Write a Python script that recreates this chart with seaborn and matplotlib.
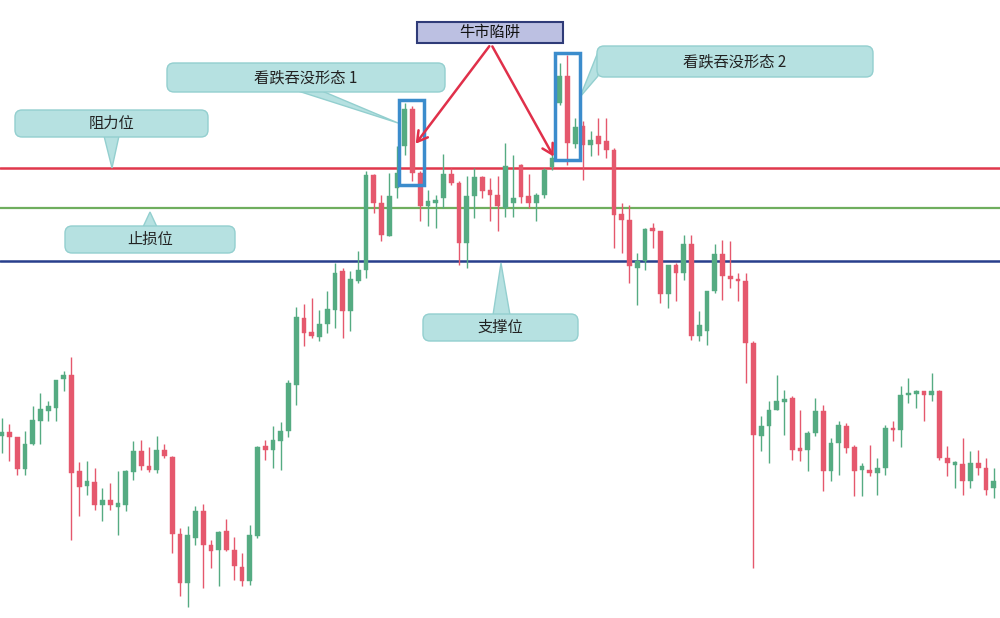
import numpy as np
import pandas as pd
import matplotlib
matplotlib.use("Agg")
import matplotlib.pyplot as plt
from matplotlib.patches import FancyBboxPatch, Polygon, Rectangle
import seaborn as sns

# ---------------- data (price units) ----------------
opens = [182, 186, 181, 149, 174, 197, 207, 210, 239, 243,
         147, 132, 136, 113, 118, 111, 113, 146, 167, 152,
         148, 168, 161, 84, 35, 80, 107, 73, 68, 87,
         68, 51, 37, 82, 172, 168, 177, 187, 233, 300,
         286, 281, 294, 308, 347, 307, 337, 348, 443, 415,
         382, 430, 472, 509, 445, 412, 415, 420, 444, 435,
         375, 422, 441, 428, 423, 410, 415, 453, 422, 415,
         423, 451, 515, 542, 474, 492, 473, 482, 477, 468,
         404, 398, 350, 357, 390, 387, 324, 353, 345, 374,
         282, 287, 327, 364, 342, 339, 337, 275, 182, 192,
         208, 216, 220, 170, 168, 185, 207, 147, 175, 192,
         171, 148, 148, 145, 150, 190, 188, 223, 224, 227,
         223, 227, 160, 153, 154, 137, 155, 150, 130]
highs = [200, 194, 181, 187, 212, 225, 217, 238, 247, 261,
         156, 157, 150, 130, 135, 147, 148, 177, 178, 171,
         182, 174, 162, 90, 92, 112, 114, 78, 87, 99,
         81, 65, 93, 172, 178, 192, 196, 238, 311, 314,
         320, 308, 327, 355, 350, 347, 367, 447, 444, 423,
         445, 472, 515, 512, 447, 428, 423, 464, 450, 437,
         442, 450, 442, 440, 442, 475, 463, 454, 444, 425,
         450, 465, 555, 563, 500, 497, 487, 500, 500, 470,
         415, 413, 365, 390, 395, 387, 353, 355, 383, 383,
         307, 327, 374, 378, 377, 345, 345, 277, 202, 217,
         243, 228, 222, 208, 187, 220, 213, 180, 197, 195,
         173, 155, 173, 160, 193, 197, 232, 240, 228, 227,
         245, 228, 172, 157, 180, 167, 168, 160, 150]
lows = [165, 157, 143, 143, 173, 174, 197, 197, 227, 78,
        102, 123, 108, 97, 108, 83, 107, 138, 148, 146,
        145, 160, 65, 22, 11, 73, 30, 50, 32, 67,
        38, 32, 33, 80, 158, 150, 148, 181, 213, 272,
        280, 277, 285, 290, 280, 287, 335, 340, 405, 377,
        382, 420, 463, 437, 397, 392, 390, 410, 433, 353,
        350, 400, 420, 397, 387, 401, 401, 415, 410, 397,
        420, 448, 513, 453, 470, 438, 462, 463, 460, 370,
        365, 335, 313, 348, 370, 315, 310, 317, 338, 278,
        277, 273, 325, 318, 330, 317, 235, 50, 167, 155,
        208, 183, 158, 157, 147, 182, 127, 137, 143, 165,
        122, 122, 142, 123, 143, 177, 171, 215, 210, 197,
        217, 158, 142, 130, 123, 130, 143, 123, 120]
closes = [186, 181, 149, 174, 198, 209, 212, 238, 243, 145,
          131, 137, 113, 118, 113, 115, 147, 167, 152, 148,
          168, 162, 84, 35, 83, 107, 73, 67, 86, 68,
          52, 37, 83, 171, 168, 178, 187, 235, 301, 285,
          282, 294, 309, 345, 307, 339, 348, 443, 415, 383,
          422, 445, 509, 445, 412, 417, 418, 444, 435, 375,
          422, 441, 427, 423, 412, 452, 420, 421, 415, 423,
          448, 460, 542, 475, 491, 473, 478, 474, 468, 403,
          398, 352, 357, 389, 387, 324, 353, 345, 374, 282,
          293, 327, 364, 342, 339, 337, 275, 183, 192, 208,
          217, 219, 168, 167, 185, 207, 147, 175, 193, 170,
          147, 152, 145, 150, 190, 188, 223, 225, 227, 223,
          227, 160, 155, 156, 137, 155, 150, 128, 137]

resistance_level = 450
stop_loss_level = 410
support_level = 357

labels = {
    "trap": "牛市陷阱",
    "engulf1": "看跌吞没形态 1",
    "engulf2": "看跌吞没形态 2",
    "resistance": "阻力位",
    "stop": "止损位",
    "support": "支撑位",
}

df = pd.DataFrame({"open": opens, "high": highs, "low": lows, "close": closes})
df["idx"] = np.arange(len(df))
df["up"] = df["close"] >= df["open"]

# ---------------- style ----------------
sns.set_theme(style="white")
plt.rcParams["font.family"] = ["Noto Sans CJK SC", "DejaVu Sans"]

GREEN = "#55ab82"
RED = "#e5586d"

fig = plt.figure(figsize=(10, 6.18), dpi=100)
fig.patch.set_facecolor("white")
ax = fig.add_axes([0, 0, 1, 1])
ax.set_facecolor("white")

n = len(df)
step = 7.75
x0 = -1.7 / step
ax.set_xlim(x0, x0 + 1000 / step)
ax.set_ylim(0, 618)
ax.axis("off")

# horizontal levels
ax.axhline(resistance_level, color="#e0384c", lw=1.8, zorder=1)
ax.axhline(stop_loss_level, color="#6fae5e", lw=1.6, zorder=1)
ax.axhline(support_level, color="#283f8c", lw=1.8, zorder=1)

colors = np.where(df["up"], GREEN, RED)
ax.vlines(df["idx"], df["low"], df["high"], colors=colors, lw=1.0, zorder=2)
body_lo = np.minimum(df["open"], df["close"])
body_h = np.maximum(np.abs(df["close"] - df["open"]), 2.5)
ax.bar(df["idx"], body_h, bottom=body_lo, width=0.62, color=colors,
       edgecolor=colors, linewidth=0.3, zorder=3)

# ---------------- annotation overlay in pixel coords ----------------
ov = fig.add_axes([0, 0, 1, 1], facecolor="none")
ov.set_xlim(0, 1000)
ov.set_ylim(618, 0)
ov.axis("off")

BOX_FC = "#b6e1e1"
BOX_EC = "#93cfcf"


def callout(x0_, y0_, x1_, y1_, text, wedge):
    poly = Polygon(wedge, closed=True, facecolor=BOX_FC, edgecolor=BOX_EC,
                   lw=1.0, zorder=5)
    ov.add_patch(poly)
    box = FancyBboxPatch((x0_, y0_), x1_ - x0_, y1_ - y0_,
                         boxstyle="round,pad=0,rounding_size=7",
                         facecolor=BOX_FC, edgecolor=BOX_EC, lw=1.0, zorder=6)
    ov.add_patch(box)
    ov.text((x0_ + x1_) / 2, (y0_ + y1_) / 2, text, ha="center", va="center",
            fontsize=11, color="#222222", zorder=7)


callout(15, 110, 208, 137, labels["resistance"],
        [(104, 136), (119, 136), (112, 168)])
callout(65, 226, 235, 253, labels["stop"],
        [(143, 227), (157, 227), (150, 212)])
callout(167, 63, 445, 92, labels["engulf1"],
        [(298, 91), (322, 91), (398, 123)])
callout(597, 46, 873, 77, labels["engulf2"],
        [(598, 52), (598, 76), (580, 97)])
callout(423, 314, 578, 341, labels["support"],
        [(493, 315), (510, 315), (501, 263)])

# blue highlight rectangles
ov.add_patch(Rectangle((399, 100), 25, 85, fill=False, edgecolor="#3b8ccc",
                       lw=2.5, zorder=8))
ov.add_patch(Rectangle((555, 53), 25, 107, fill=False, edgecolor="#3b8ccc",
                       lw=2.5, zorder=8))

# bull-trap box and arrows
ov.add_patch(Rectangle((417, 22), 146, 21, facecolor="#bcc0e2",
                       edgecolor="#2f3b78", lw=1.5, zorder=8))
ov.text(490, 32.5, labels["trap"], ha="center", va="center", fontsize=11,
        color="#111111", zorder=9)
for tip in [(414, 146), (555, 159)]:
    ov.annotate("", xy=tip, xytext=(491, 44),
                arrowprops=dict(arrowstyle="->,head_length=0.6,head_width=0.35",
                                color="#e0304a", lw=1.8), zorder=9)

fig.savefig("out.png", dpi=100, facecolor="white")
